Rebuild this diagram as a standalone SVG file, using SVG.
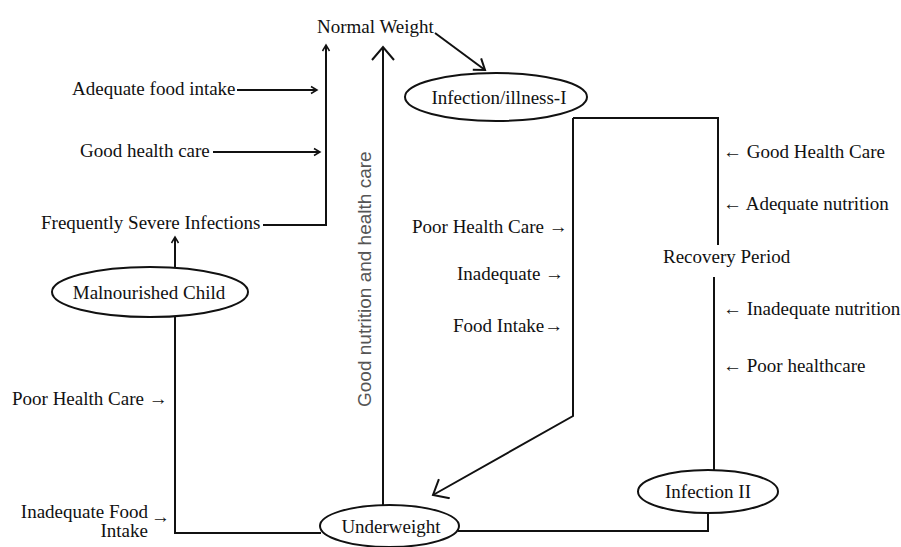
<svg xmlns="http://www.w3.org/2000/svg" width="901" height="547" viewBox="0 0 901 547">
<style>
text{font-family:"Liberation Serif","Times New Roman",serif;font-size:19px;fill:#111}
.rot{font-family:"Liberation Sans",Arial,sans-serif;font-size:19px;fill:#555}
.ln{fill:none;stroke:#111;stroke-width:2}
.el{fill:#fff;stroke:#111;stroke-width:2}
</style>
<defs>
<marker id="sm" markerUnits="userSpaceOnUse" markerWidth="12" markerHeight="12" refX="9" refY="5" orient="auto">
<path d="M3,1.5 L9,5 L3,8.5" fill="none" stroke="#111" stroke-width="1.5"/>
</marker>
<marker id="lg" markerUnits="userSpaceOnUse" markerWidth="20" markerHeight="24" refX="15" refY="12" orient="auto">
<path d="M2,1 L15,12 L2,23" fill="none" stroke="#111" stroke-width="2"/>
</marker>
<marker id="md" markerUnits="userSpaceOnUse" markerWidth="20" markerHeight="20" refX="13" refY="10" orient="auto">
<path d="M3,3 L13,10 L3,17" fill="none" stroke="#111" stroke-width="2"/>
</marker>
</defs>
<g id="connectors">
<path class="ln" d="M237,90 H317" marker-end="url(#sm)"/>
<path class="ln" d="M213,152 H320" marker-end="url(#sm)"/>
<path class="ln" d="M263,225 H326 V45" marker-end="url(#sm)"/>
<path class="ln" d="M175,268 V237" marker-end="url(#sm)"/>
<path class="ln" d="M175,317 V533 H321"/>
<path class="ln" d="M383,505 V47" marker-end="url(#lg)"/>
<path class="ln" d="M435,33 L485,70" marker-end="url(#md)"/>
<path class="ln" d="M573,118 H718 V245"/>
<path class="ln" d="M714,277 V470"/>
<path class="ln" d="M573,118 V416 L433,495" marker-end="url(#lg)"/>
<path class="ln" d="M708,513 V531 H458"/>
</g>
<g id="normal-weight"><text x="317" y="33">Normal Weight</text></g>
<g id="adequate-food"><text x="72" y="95">Adequate food intake</text></g>
<g id="good-health"><text x="80" y="157">Good health care</text></g>
<g id="freq-infections"><text x="41" y="229">Frequently Severe Infections</text></g>
<g id="malnourished"><ellipse class="el" cx="150" cy="292" rx="98" ry="25"/><text x="149" y="299" text-anchor="middle">Malnourished Child</text></g>
<g id="left-poor"><text x="12" y="405">Poor Health Care →</text></g>
<g id="left-inadequate"><text x="148" y="518" text-anchor="end">Inadequate Food</text><text x="148" y="537" text-anchor="end">Intake</text><text x="151" y="523">→</text></g>
<g id="rot-label"><text class="rot" transform="translate(371,407) rotate(-90)">Good nutrition and health care</text></g>
<g id="infection1"><ellipse class="el" cx="496" cy="97" rx="91" ry="24"/><text x="499" y="104" text-anchor="middle">Infection/illness-I</text></g>
<g id="mid-poor"><text x="412" y="233">Poor Health Care →</text></g>
<g id="mid-inadequate"><text x="457" y="280">Inadequate →</text></g>
<g id="mid-food"><text x="453" y="332">Food Intake→</text></g>
<g id="r-good"><text x="723" y="158">← Good Health Care</text></g>
<g id="r-adequate"><text x="723" y="210">← Adequate nutrition</text></g>
<g id="recovery"><text x="663" y="263">Recovery Period</text></g>
<g id="r-inadequate"><text x="723" y="315">← Inadequate nutrition</text></g>
<g id="r-poor"><text x="723" y="372">← Poor healthcare</text></g>
<g id="infection2"><ellipse class="el" cx="708" cy="491.5" rx="70" ry="21.5"/><text x="708" y="498" text-anchor="middle">Infection II</text></g>
<g id="underweight"><ellipse class="el" cx="389.5" cy="526" rx="69.5" ry="21"/><text x="391" y="533" text-anchor="middle">Underweight</text></g>
</svg>
